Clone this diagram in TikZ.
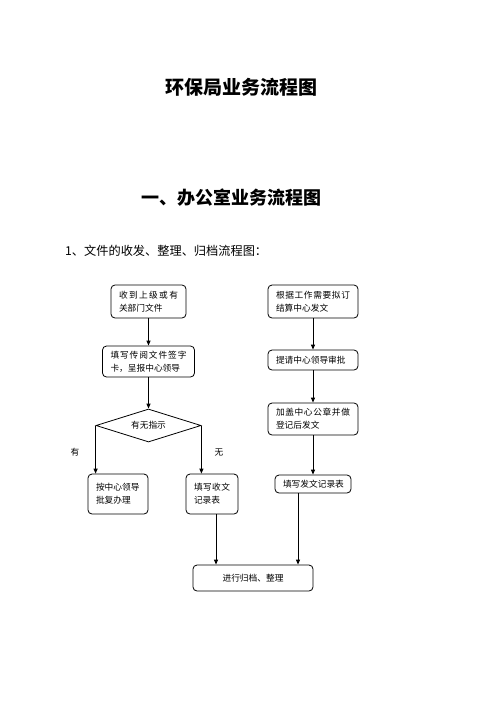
\documentclass[tikz,border=0pt]{standalone}
\usepackage{fontspec}
\setmainfont{Noto Sans CJK SC}
\newfontfamily\cjk{Noto Sans CJK SC}
\usetikzlibrary{shapes.geometric,arrows.meta}
\newcommand\sprd[1]{\makebox[\hsize]{#1}}
\begin{document}
\begin{tikzpicture}[x=1pt,y=-1pt,
  box/.style={draw, rounded corners=4pt, line width=0.8pt, inner xsep=8pt, inner ysep=0pt,
    align=left, font=\cjk\fontsize{8.7}{13}\selectfont},
  arr/.style={line width=1pt, -{Triangle[length=5pt,width=4pt]}},
  lbl/.style={font=\cjk\fontsize{8.7}{13}\selectfont, inner sep=0pt}]
\useasboundingbox (0,0) rectangle (496,702);
% titles
\node[inner sep=0pt, font=\cjk\bfseries\fontsize{19}{22}\selectfont] (title) at (241,87) {环保局业务流程图};
\node[inner sep=0pt, font=\cjk\bfseries\fontsize{18}{22}\selectfont] (head) at (231,197.5) {一、办公室业务流程图};
\node[inner sep=0pt, anchor=west, font=\cjk\fontsize{12.2}{14}\selectfont] (sub) at (65,250.5) {1、文件的收发、整理、归档流程图：};
% left column
\node[box, text width=59pt, minimum height=33pt] (b1) at (148.5,301.5)
  {\sprd{收\hfill 到\hfill 上\hfill 级\hfill 或\hfill 有}\\关部门文件};
\node[box, text width=76pt, minimum height=31pt] (b2) at (148.5,361.5)
  {\sprd{填\hfill 写\hfill 传\hfill 阅\hfill 文\hfill 件\hfill 签\hfill 字}\\卡，呈报中心领导};
\node[draw, diamond, aspect=3.2, inner sep=0pt, minimum width=105pt, minimum height=33pt,
  line width=0.8pt, font=\cjk\fontsize{8.7}{13}\selectfont] (dia) at (148.5,425.5) {有无指示};
\node[box, text width=44pt, minimum height=40pt] (b5) at (118,494) {按中心领导\\批复办理};
\node[box, text width=36pt, minimum height=40pt] (b6) at (212,494)
  {\sprd{填\hfill 写\hfill 收\hfill 文}\\记录表};
\node[lbl] (yes) at (75,452) {有};
\node[lbl] (no) at (219,452) {无};
% right column
\node[box, text width=74pt, minimum height=33pt] (r1) at (313,301.5)
  {\sprd{根\hfill 据\hfill 工\hfill 作\hfill 需\hfill 要\hfill 拟\hfill 订}\\结算中心发文};
\node[box, text width=74pt, minimum height=20pt] (r2) at (313,360) {提请中心领导审批};
\node[box, text width=74pt, minimum height=32pt] (r3) at (313,419)
  {\sprd{加\hfill 盖\hfill 中\hfill 心\hfill 公\hfill 章\hfill 并\hfill 做}\\登记后发文};
\node[box, text width=60pt, minimum height=18pt] (r4) at (313,484) {填写发文记录表};
% bottom
\node[box, text width=104pt, align=center, minimum height=26pt] (b8) at (253,578) {进行归档、整理};
% connectors
\draw[arr] (b1.south) -- (b2.north);
\draw[arr] (b2.south) -- (dia.north);
\draw[arr] (dia.west) -- (dia.west |- b5.north);
\draw[arr] (dia.east) -- (dia.east |- b6.north);
\draw[arr] ([xshift=4pt]b6.south) -- ([xshift=4pt]b6.south |- b8.north);
\draw[arr] (r1.south) -- (r2.north);
\draw[arr] (r2.south) -- (r3.north);
\draw[arr] (r3.south) -- (r4.north);
\draw[arr] ([xshift=-15pt]r4.south) -- ([xshift=-15pt]r4.south |- b8.north);
\end{tikzpicture}
\end{document}
